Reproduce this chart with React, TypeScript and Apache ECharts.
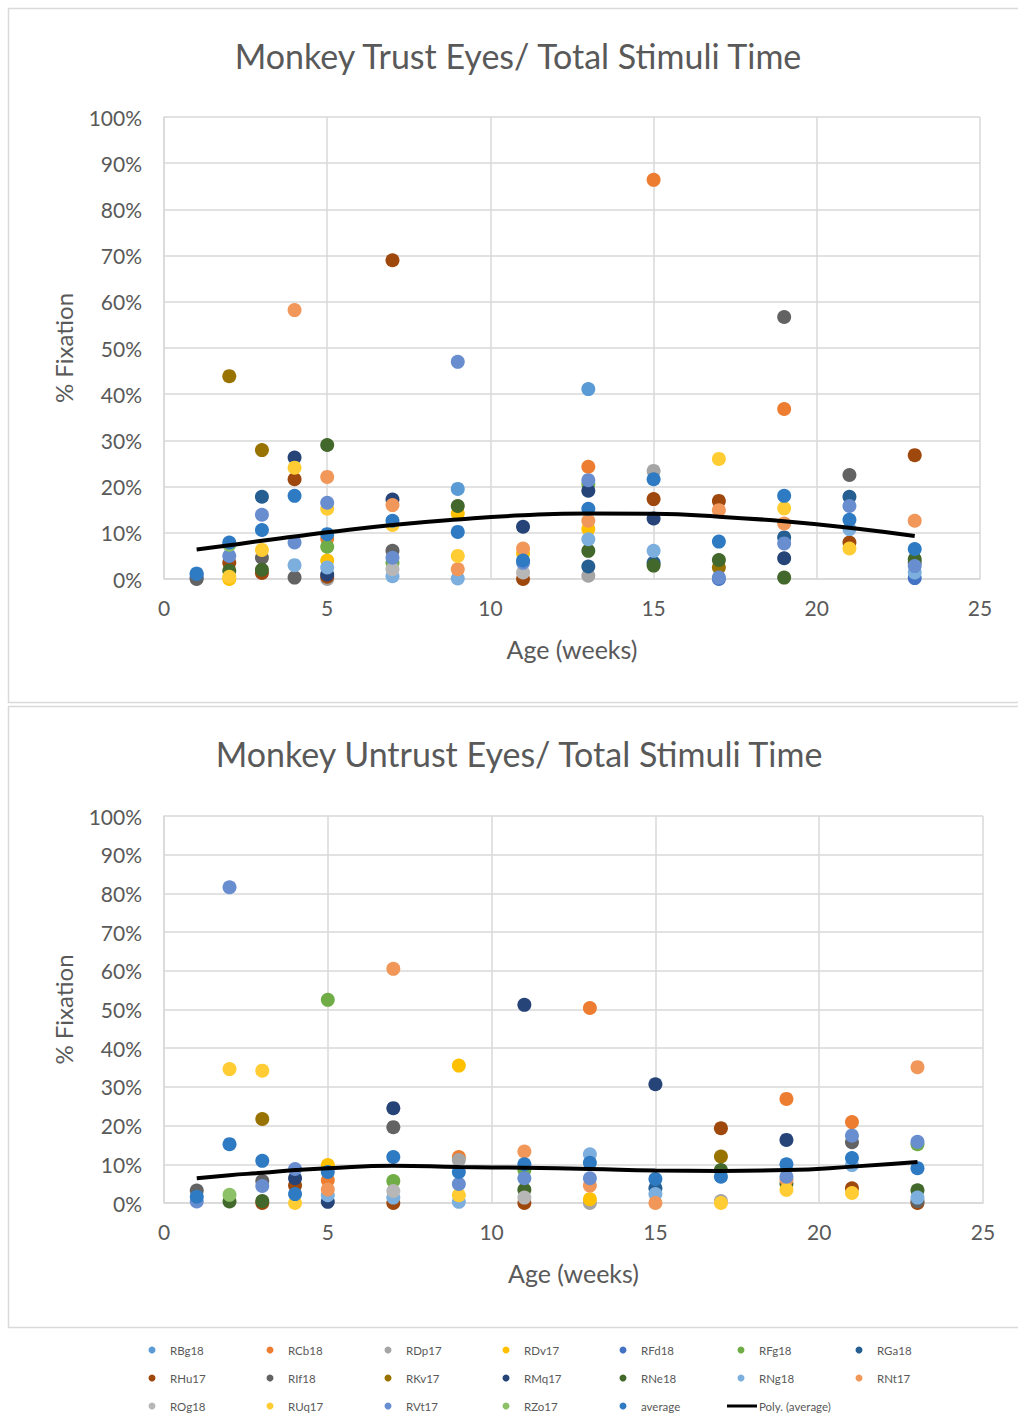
import React, { useEffect, useRef } from "react";
import * as echarts from "echarts";

const n = null;
const ages = [1, 2, 3, 4, 5, 7, 9, 11, 13, 15, 17, 19, 21, 23];

const seriesNames = ["RBg18", "RCb18", "RDp17", "RDv17", "RFd18", "RFg18", "RGa18", "RHu17", "RIf18", "RKv17", "RMq17", "RNe18", "RNg18", "RNt17", "ROg18", "RUq17", "RVt17", "RZo17", "average"];
const seriesColors = ["#5B9BD5", "#ED7D31", "#A5A5A5", "#FFC000", "#4472C4", "#70AD47", "#255E91", "#9E480E", "#636363", "#997300", "#264478", "#43682B", "#7CAFDD", "#F1975A", "#B7B7B7", "#FFCD33", "#698ED0", "#8CC168", "#2E7BC3"];

// Trust eyes (% fixation), one value per age
const trustRBg18 = [1.2, n, n, n, n, n, 19.5, n, 41.1, n, n, n, n, n];
const trustRCb18 = [n, n, n, n, 8.7, n, n, n, 24.3, 86.4, n, 36.8, n, n];
const trustRDp17 = [n, n, n, n, 0, n, n, n, 0.7, 23.4, n, n, n, n];
const trustRDv17 = [n, 0, n, n, 4, n, 14.2, 5.5, 10.8, n, n, n, n, n];
const trustRFd18 = [0.3, n, n, n, n, n, n, n, n, n, 0, n, n, 0.2];
const trustRFg18 = [n, n, n, n, 7, 3.5, n, n, 20.5, n, n, n, n, n];
const trustRGa18 = [n, n, 17.8, n, n, n, n, n, 2.7, 3.5, n, 9, 17.8, n];
const trustRHu17 = [n, 3.5, 1.3, 21.6, 0.5, 69, n, 0, n, 17.3, 16.9, n, 7.9, 26.8];
const trustRIf18 = [0, n, 4.6, 0.3, n, 6.1, n, n, n, n, n, 56.7, 22.5, 3.5];
const trustRKv17 = [n, 43.9, 27.9, n, n, n, n, n, n, n, 2.5, n, n, n];
const trustRMq17 = [n, n, n, 26.3, 1, 17.2, n, 11.3, 19.1, 13.1, n, 4.5, n, n];
const trustRNe18 = [n, 1.8, 2, n, 29, n, 15.8, n, 6.1, 2.9, 4.1, 0.3, n, 4.3];
const trustRNg18 = [n, n, n, 3, 2.5, 0.6, 0.1, n, 8.6, 6.1, n, n, 10.8, 1.4];
const trustRNt17 = [n, n, n, 58.2, 22.1, 16, 2.1, 6.6, 12.6, n, 14.9, 12, n, 12.6];
const trustROg18 = [n, n, n, n, n, 2.1, n, 1.4, n, n, n, n, n, n];
const trustRUq17 = [n, 0.5, 6.3, 24.1, 15.2, 11.7, 5, n, n, n, 26, 15.3, 6.6, n];
const trustRVt17 = [n, 5, 13.9, 7.9, 16.5, 4.6, 47, 3.5, 21.4, n, 0.3, 7.7, 15.8, 2.8];
const trustRZo17 = [n, 7.4, n, n, n, n, n, n, n, n, n, n, n, n];
const trustAverage = [1.1, 7.9, 10.6, 18, 9.7, 12.6, 10.2, 4, 15.2, 21.6, 8.1, 18, 12.8, 6.5];
const trustTrend = [6.4, 7.3, 8.3, 9.2, 10.1, 11.7, 12.9, 13.8, 14.2, 14.1, 13.5, 12.5, 11.1, 9.3];

// Untrust eyes (% fixation), one value per age
const untrustRBg18 = [n, n, n, n, n, n, n, n, n, n, n, n, n, n];
const untrustRCb18 = [n, n, n, n, 5.9, n, 11.9, n, 50.4, n, n, 26.9, 20.9, n];
const untrustRDp17 = [n, n, n, n, n, n, 11.1, n, 0, n, 0.5, n, n, n];
const untrustRDv17 = [n, n, n, n, 9.8, n, 35.5, n, 1, n, n, n, n, n];
const untrustRFd18 = [n, n, n, n, n, n, n, n, n, n, n, n, n, n];
const untrustRFg18 = [n, n, n, n, 52.5, 5.7, n, 8.5, n, n, n, n, n, 15.2];
const untrustRGa18 = [n, n, n, n, n, n, n, n, n, 3.8, n, n, n, n];
const untrustRHu17 = [n, n, 0, 4.5, n, 0, n, 0, n, n, 19.3, n, 3.8, 0];
const untrustRIf18 = [3.2, n, 5.7, n, n, 19.6, n, n, n, n, n, n, 15.7, 0.5];
const untrustRKv17 = [n, n, 21.7, n, n, n, n, n, n, n, 12, n, n, n];
const untrustRMq17 = [n, n, n, 6.4, 0.3, 24.5, n, 51.2, n, 30.7, n, 16.3, n, n];
const untrustRNe18 = [n, 0.4, 0.5, n, n, n, n, 3.4, n, n, 8.5, 5, n, 3.3];
const untrustRNg18 = [n, n, n, n, 2, 1.4, 0.3, n, 12.6, 2.3, n, n, 9.8, 1.4];
const untrustRNt17 = [n, n, n, n, 3.5, 60.5, n, 13.3, 4.5, 0, n, 6, n, 35.1];
const untrustROg18 = [n, n, n, n, n, 3.1, n, 1.4, n, n, n, n, n, n];
const untrustRUq17 = [n, 34.6, 34.2, 0, n, n, 2, n, n, n, 0, 3.4, 2.6, n];
const untrustRVt17 = [0.4, 81.6, 4.4, 8.8, n, n, 4.9, 6.4, 6.4, n, n, 6.8, 17.4, 15.8];
const untrustRZo17 = [n, 2.1, n, n, n, n, n, n, n, n, n, n, n, n];
const untrustAverage = [1.6, 15.2, 10.9, 2.3, 8, 11.9, 8, 10, 10.4, 6.2, 6.8, 10, 11.6, 9];
const untrustTrend = [6.4, 7.2, 7.8, 8.5, 9.0, 9.6, 9.3, 9.1, 8.8, 8.4, 8.3, 8.5, 9.4, 10.6];

const trustData = [trustRBg18, trustRCb18, trustRDp17, trustRDv17, trustRFd18, trustRFg18, trustRGa18, trustRHu17, trustRIf18, trustRKv17, trustRMq17, trustRNe18, trustRNg18, trustRNt17, trustROg18, trustRUq17, trustRVt17, trustRZo17, trustAverage];
const untrustData = [untrustRBg18, untrustRCb18, untrustRDp17, untrustRDv17, untrustRFd18, untrustRFg18, untrustRGa18, untrustRHu17, untrustRIf18, untrustRKv17, untrustRMq17, untrustRNe18, untrustRNg18, untrustRNt17, untrustROg18, untrustRUq17, untrustRVt17, untrustRZo17, untrustAverage];

const titles = ["Monkey Trust Eyes/ Total Stimuli Time", "Monkey Untrust Eyes/ Total Stimuli Time"];
const FONT = "Lato";
const TXT = "#595959";
const GRID = "#d9d9d9";

export default function App() {
  const ref = useRef<HTMLDivElement>(null);
  useEffect(() => {
    if (!ref.current) return;
    const chart = echarts.init(ref.current, undefined, { renderer: "svg" });

    const mkX = (i: number) => ({
      type: "value",
      gridIndex: i,
      min: 0,
      max: 25,
      interval: 5,
      name: "Age (weeks)",
      nameLocation: "middle",
      nameGap: 57,
      nameTextStyle: { fontFamily: FONT, fontSize: 25, color: TXT },
      axisLine: { show: true, lineStyle: { color: GRID, width: 1.5 } },
      axisTick: { show: false },
      axisLabel: { fontFamily: FONT, fontSize: 21, color: TXT, margin: 18 },
      splitLine: { show: true, lineStyle: { color: GRID, width: 1.5 } },
    });
    const mkY = (i: number) => ({
      type: "value",
      gridIndex: i,
      min: 0,
      max: 100,
      interval: 10,
      name: "% Fixation",
      nameLocation: "middle",
      nameGap: 89,
      nameTextStyle: { fontFamily: FONT, fontSize: 24, color: TXT },
      axisLine: { show: true, lineStyle: { color: GRID, width: 1.5 } },
      axisTick: { show: false },
      axisLabel: { fontFamily: FONT, fontSize: 21, color: TXT, margin: 22, formatter: "{value}%" },
      splitLine: { show: true, lineStyle: { color: GRID, width: 1.5 } },
    });

    const series: any[] = [];
    [trustData, untrustData].forEach((set, c) => {
      set.forEach((vals, k) => {
        series.push({
          type: "scatter",
          name: seriesNames[k],
          xAxisIndex: c,
          yAxisIndex: c,
          symbol: "circle",
          symbolSize: 14,
          itemStyle: { color: seriesColors[k], opacity: 1 },
          emphasis: { disabled: true },
          data: ages.map((a, i) => (vals[i] == null ? null : [a, vals[i]])).filter((d) => d !== null),
        });
      });
      const trend = c === 0 ? trustTrend : untrustTrend;
      series.push({
        type: "line",
        name: "Poly. (average)",
        xAxisIndex: c,
        yAxisIndex: c,
        smooth: true,
        showSymbol: false,
        symbol: "none",
        z: 5,
        lineStyle: { color: "#000", width: 4 },
        data: ages.map((a, i) => [a, trend[i]]),
      });
    });

    const legendEls: any[] = [];
    const colX = [152, 270, 388, 506, 623, 741, 859];
    const rowY = [1350, 1378, 1406];
    seriesNames.forEach((nm, i) => {
      const cx = colX[i % 7];
      const cy = rowY[Math.floor(i / 7)];
      legendEls.push({ type: "circle", shape: { cx, cy, r: 3.5 }, style: { fill: seriesColors[i] } });
      legendEls.push({ type: "text", x: cx + 18, y: cy, style: { text: nm, fill: TXT, fontFamily: FONT, fontSize: 11.5, verticalAlign: "middle" } });
    });
    legendEls.push({ type: "line", shape: { x1: 727, y1: 1406, x2: 757, y2: 1406 }, style: { stroke: "#000", lineWidth: 3 } });
    legendEls.push({ type: "text", x: 759, y: 1406, style: { text: "Poly. (average)", fill: TXT, fontFamily: FONT, fontSize: 11.5, verticalAlign: "middle" } });

    const option: any = {
      animation: false,
      backgroundColor: "#fff",
      title: [
        { text: titles[0], left: 513, top: 33, textAlign: "center", textStyle: { fontFamily: FONT, fontSize: 34, fontWeight: "normal", color: TXT } },
        { text: titles[1], left: 514, top: 731, textAlign: "center", textStyle: { fontFamily: FONT, fontSize: 34, fontWeight: "normal", color: TXT } },
      ],
      grid: [
        { left: 164, top: 117, width: 816, height: 462 },
        { left: 164, top: 816, width: 819, height: 387 },
      ],
      xAxis: [mkX(0), mkX(1)],
      yAxis: [mkY(0), mkY(1)],
      graphic: [
        { type: "rect", shape: { x: 8.5, y: 8.5, width: 1014, height: 694 }, style: { fill: "none", stroke: GRID, lineWidth: 1.5 }, z: -1 },
        { type: "rect", shape: { x: 8.5, y: 706.5, width: 1014, height: 621 }, style: { fill: "none", stroke: GRID, lineWidth: 1.5 }, z: -1 },
        ...legendEls,
      ],
      series,
    };
    chart.setOption(option);
    return () => chart.dispose();
  }, []);
  return <div ref={ref} style={{ position: "absolute", left: 0, top: 0, width: 1018, height: 1416 }} />;
}
